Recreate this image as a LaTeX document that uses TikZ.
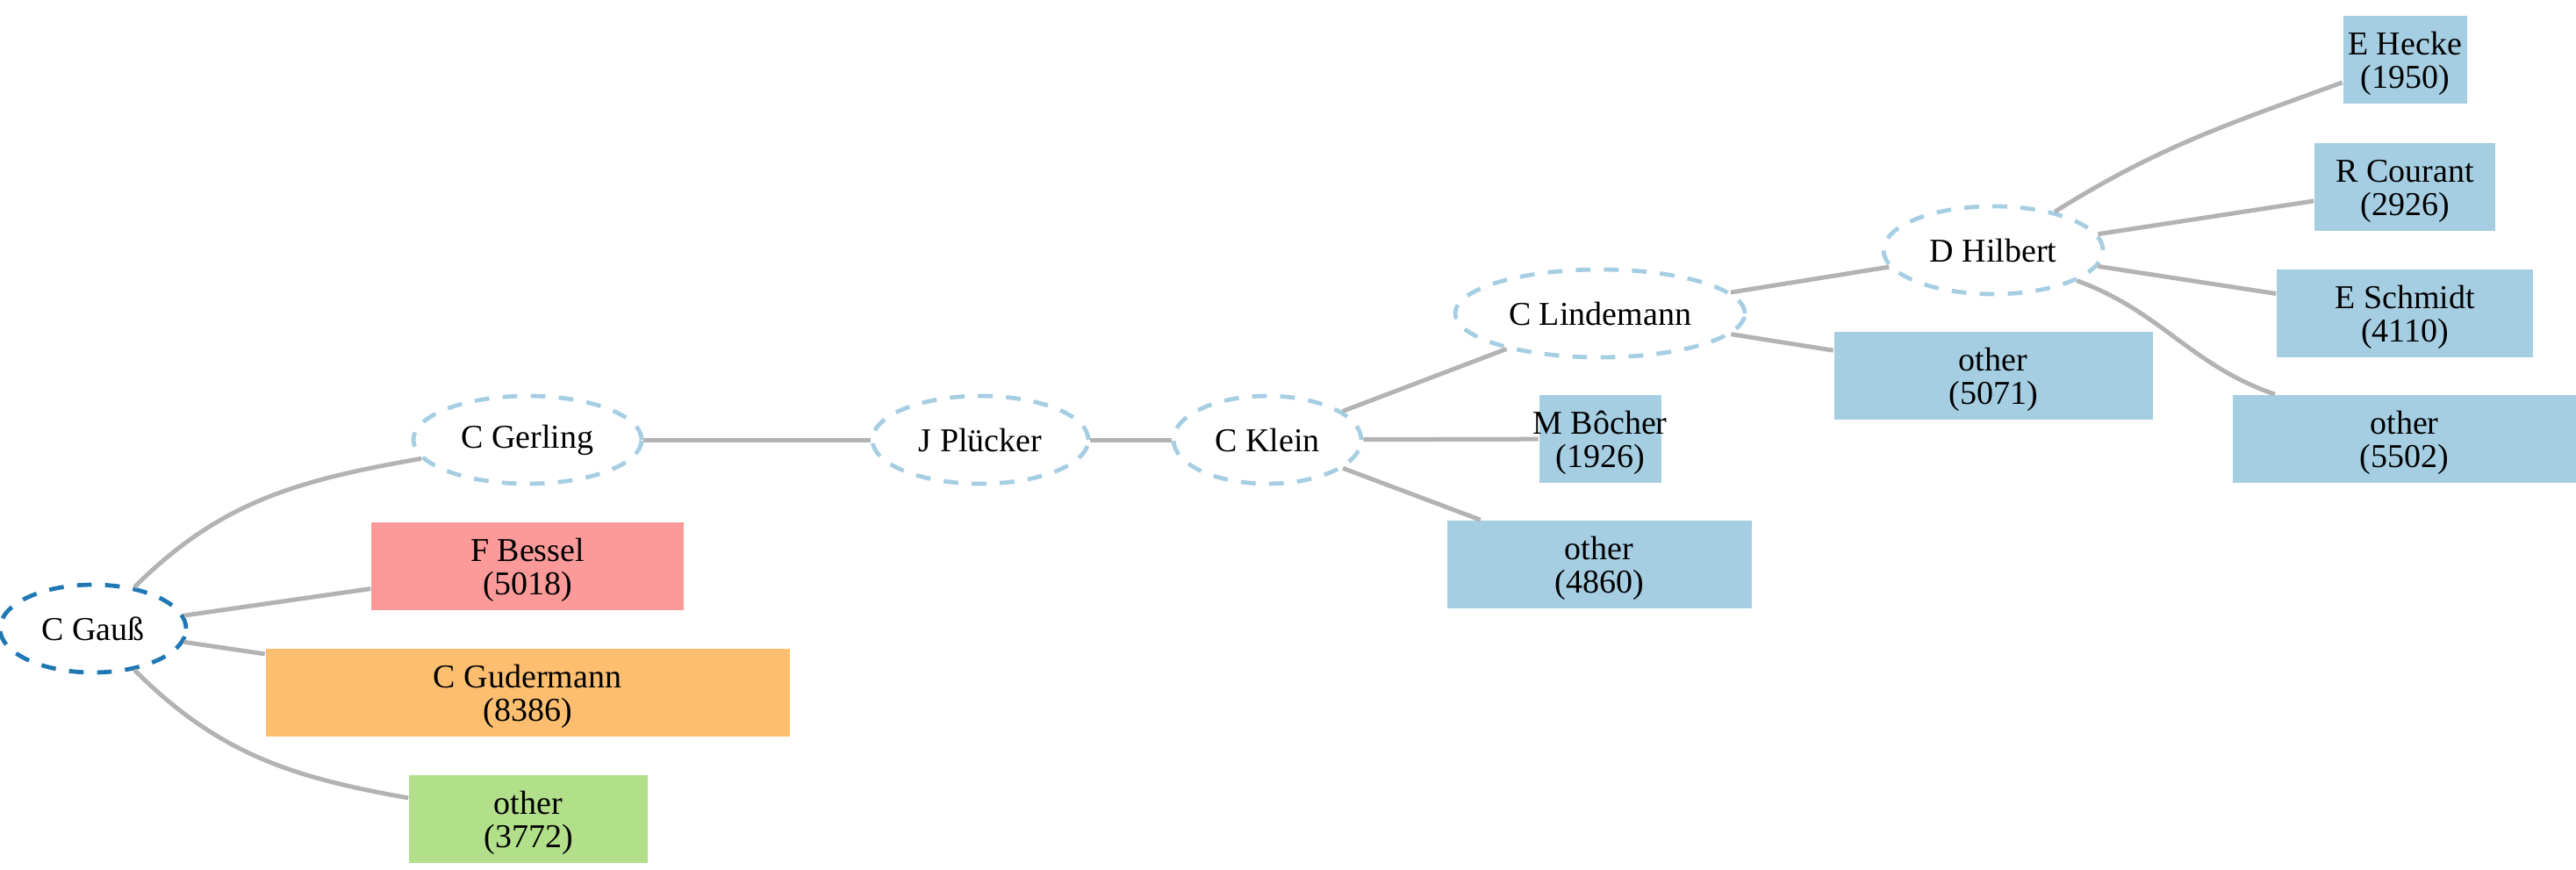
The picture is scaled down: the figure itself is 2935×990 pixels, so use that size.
\documentclass[tikz,border=0pt]{standalone}
\usepackage{fontspec}
\setmainfont{Liberation Serif}
\usetikzlibrary{shapes.geometric}
\definecolor{dblue}{HTML}{1F78B4}
\definecolor{lblue}{HTML}{A6CEE3}
\definecolor{pinkc}{HTML}{FB9A99}
\definecolor{orangec}{HTML}{FDBF6F}
\definecolor{greenc}{HTML}{B2DF8A}
\definecolor{edgec}{HTML}{B3B3B3}
\begin{document}
\begin{tikzpicture}[x=0.25pt,y=0.25pt,
  every node/.style={font=\fontsize{9.5}{9.5}\selectfont, align=center, inner sep=0pt},
  person/.style={ellipse, draw=lblue, line width=1.2pt, dash pattern=on 4.2pt off 3.8pt, minimum height=25pt},
  leaf/.style={rectangle, minimum height=25pt, text height=18pt, text depth=2pt},
  link/.style={draw=edgec, line width=1.25pt}]
\useasboundingbox (0,0) rectangle (2935,990);
\node[person, draw=dblue, minimum width=53pt] (gauss) at (106,274) {C Gauß};
\node[person, minimum width=65pt] (gerling) at (601,489) {C Gerling};
\node[leaf, fill=pinkc, minimum width=89pt] (bessel) at (601,345) {F Bessel\\(5018)};
\node[leaf, fill=orangec, minimum width=149.25pt] (guder) at (601,201) {C Gudermann\\(8386)};
\node[leaf, fill=greenc, minimum width=68pt] (oth1) at (602,57) {other\\(3772)};
\node[person, minimum width=61.5pt] (pluecker) at (1117,489) {J Plücker};
\node[person, minimum width=53.5pt] (klein) at (1444,489) {C Klein};
\node[leaf, fill=lblue, minimum width=34.75pt] (bocher) at (1823,490) {\makebox[0pt]{M Bôcher}\\(1926)};
\node[leaf, fill=lblue, minimum width=86.75pt] (oth2) at (1822,347) {other\\(4860)};
\node[person, minimum width=82.5pt] (linde) at (1823,633) {C Lindemann};
\node[leaf, fill=lblue, minimum width=90.75pt] (oth3) at (2271,562) {other\\(5071)};
\node[person, minimum width=62.5pt] (hilbert) at (2271,705) {D Hilbert};
\node[leaf, fill=lblue, minimum width=35.25pt] (hecke) at (2740,922) {E Hecke\\(1950)};
\node[leaf, fill=lblue, minimum width=51.5pt] (courant) at (2740,777) {R Courant\\(2926)};
\node[leaf, fill=lblue, minimum width=73pt] (schmidt) at (2740,633) {E Schmidt\\(4110)};
\node[leaf, fill=lblue, minimum width=97.75pt] (oth4) at (2739.5,490) {other\\(5502)};
\draw[link] (gauss) to[out=45,in=190] (gerling);
\draw[link] (gauss) -- (bessel);
\draw[link] (gauss) -- (guder);
\draw[link] (gauss) to[out=-45,in=170] (oth1);
\draw[link] (gerling) -- (pluecker);
\draw[link] (pluecker) -- (klein);
\draw[link] (klein) -- (bocher);
\draw[link] (klein) -- (oth2);
\draw[link] (klein) -- (linde);
\draw[link] (linde) -- (hilbert);
\draw[link] (linde) -- (oth3);
\draw[link] (hilbert) to[out=32,in=200] (hecke);
\draw[link] (hilbert) -- (courant);
\draw[link] (hilbert) -- (schmidt);
\draw[link] (hilbert) to[out=-20,in=161] (oth4);
\end{tikzpicture}
\end{document}
